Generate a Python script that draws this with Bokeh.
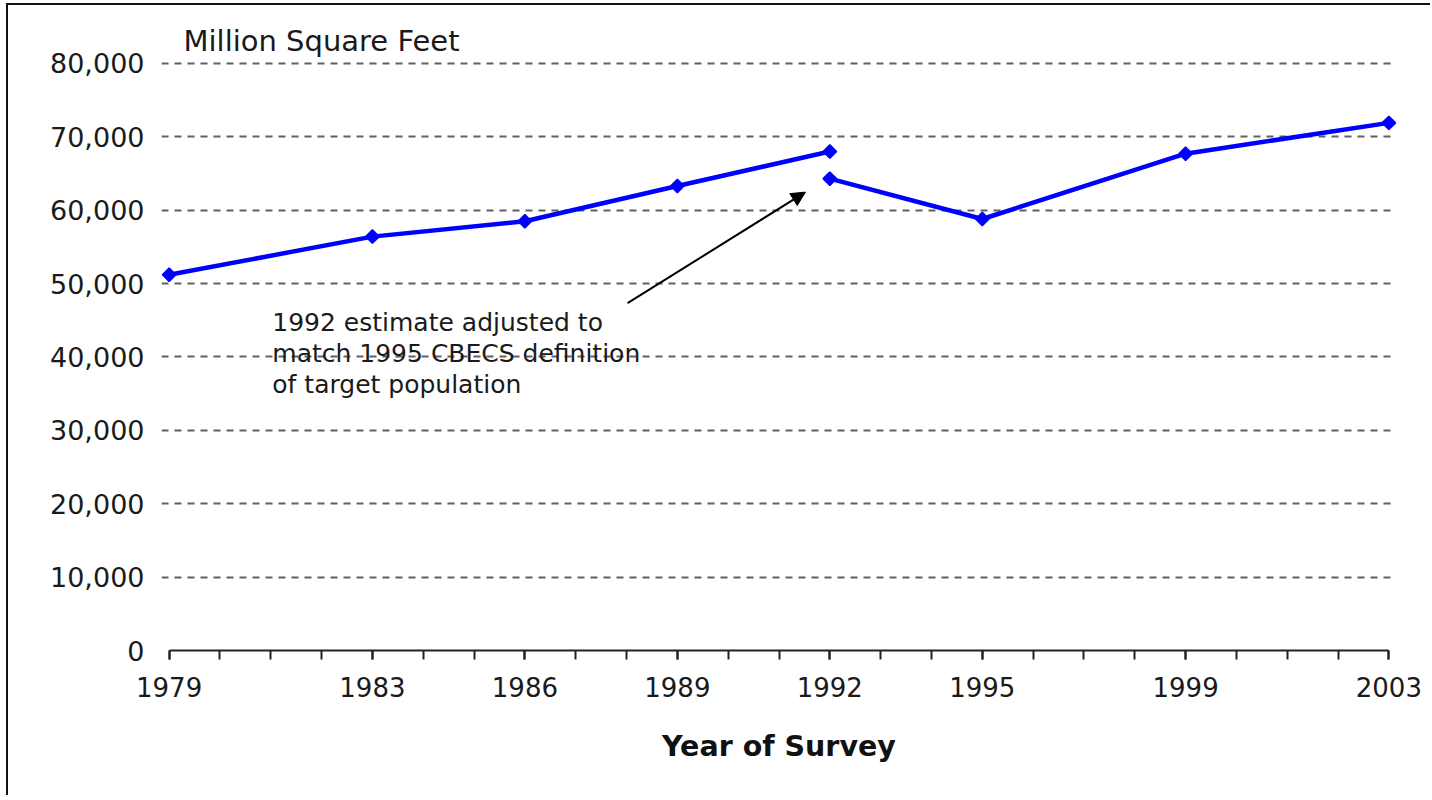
import numpy as np

from bokeh.plotting import figure
from bokeh.models import Range1d, FixedTicker, NumeralTickFormatter, Label, Arrow, NormalHead
from bokeh.embed import file_html
from bokeh.resources import INLINE

# -----------------------------
# DATA
# -----------------------------
survey_years = [1979, 1983, 1986, 1989, 1992, 1995, 1999, 2003]
all_years = list(range(1979, 2004))
y_ticks = [0, 10000, 20000, 30000, 40000, 50000, 60000, 70000, 80000]

# original series, up to the 1992 survey
years_original = [1979, 1983, 1986, 1989, 1992]
sqft_original = [51200, 56400, 58500, 63300, 68000]

# 1992 adjusted to the 1995 definition, onwards
years_adjusted = [1992, 1995, 1999, 2003]
sqft_adjusted = [64300, 58800, 67700, 71900]

note_text = "1992 estimate adjusted to\nmatch 1995 CBECS definition\nof target population"
note_x, note_y = 1981.03, 46720
arrow_from = (1988.02, 47330)
arrow_to = (1991.52, 62460)

FONT = "DejaVu Sans"
TEXT = "#1a1a1a"
BLUE = "#0000ff"

# -----------------------------
# FIGURE
# -----------------------------
p = figure(
    width=1424, height=792,
    x_range=Range1d(1978.85, 2003.15),
    y_range=Range1d(0, 80400),
    output_backend="svg", toolbar_location=None,
    min_border_left=153, min_border_right=36,
    min_border_top=55, min_border_bottom=147,
)
p.outline_line_color = None
p.styles = {
    "margin-left": "6px", "margin-top": "3px",
    "border-left": "2px solid #111", "border-top": "2px solid #111",
}

# title used as the unit label over the axis
p.title.text = "Million Square Feet"
p.title.align = "left"
p.title.offset = 22
p.title.standoff = 6
p.title.text_font = FONT
p.title.text_font_size = "29px"
p.title.text_font_style = "normal"
p.title.text_color = TEXT

# dashed horizontal grid
p.xgrid.grid_line_color = None
p.ygrid.grid_line_color = "#606060"
p.ygrid.grid_line_width = 2
p.ygrid.grid_line_dash = "7 6"

# y axis: labels only
p.yaxis.ticker = FixedTicker(ticks=y_ticks)
p.yaxis.formatter = NumeralTickFormatter(format="0,0")
p.yaxis.axis_line_color = None
p.yaxis.major_tick_line_color = None
p.yaxis.minor_tick_line_color = None
p.yaxis.major_tick_out = 0
p.yaxis.minor_tick_out = 0
p.yaxis.major_label_standoff = 17
p.yaxis.major_label_text_font = FONT
p.yaxis.major_label_text_font_size = "27px"
p.yaxis.major_label_text_color = TEXT

# x axis: tick every year, label every survey
p.xaxis.ticker = FixedTicker(ticks=survey_years, minor_ticks=all_years)
p.xaxis.bounds = (1979, 2003)
p.xaxis.axis_line_width = 2
p.xaxis.axis_line_color = "#222222"
for kind in ("major", "minor"):
    setattr(p.xaxis, f"{kind}_tick_in", 0)
    setattr(p.xaxis, f"{kind}_tick_out", 9)
    setattr(p.xaxis, f"{kind}_tick_line_width", 2)
    setattr(p.xaxis, f"{kind}_tick_line_color", "#222222")
p.xaxis.major_label_standoff = 17
p.xaxis.major_label_text_font = FONT
p.xaxis.major_label_text_font_size = "26px"
p.xaxis.major_label_text_color = TEXT
p.xaxis.axis_label = "Year of Survey"
p.xaxis.axis_label_standoff = 30
p.xaxis.axis_label_text_font = FONT
p.xaxis.axis_label_text_font_size = "28.5px"
p.xaxis.axis_label_text_font_style = "bold"
p.xaxis.axis_label_text_color = "#111111"

# -----------------------------
# SERIES
# -----------------------------
for xs, ys in ((years_original, sqft_original), (years_adjusted, sqft_adjusted)):
    p.line(xs, ys, color=BLUE, line_width=4.5)
    p.scatter(xs, ys, marker="square", angle=np.pi / 4, size=9.5,
              fill_color=BLUE, line_color=BLUE, line_width=1.5)

# -----------------------------
# NOTE + ARROW
# -----------------------------
p.add_layout(Label(
    x=note_x, y=note_y, text=note_text, text_font=FONT, text_font_size="25px",
    text_color=TEXT, text_baseline="top", text_line_height=1.07,
))

p.add_layout(Arrow(
    x_start=arrow_from[0], y_start=arrow_from[1],
    x_end=arrow_to[0], y_end=arrow_to[1],
    line_color="black", line_width=2,
    end=NormalHead(size=14, fill_color="black", line_color="black"),
))

open("out.html", "w").write(file_html(p, INLINE))
